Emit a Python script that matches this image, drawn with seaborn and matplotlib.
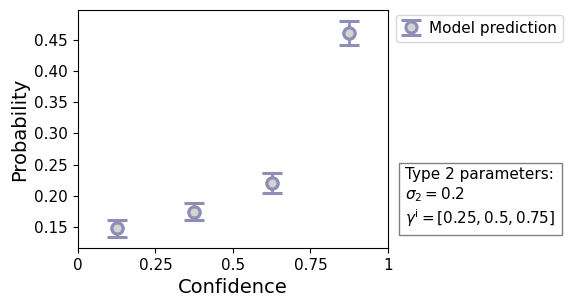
import numpy as np
import pandas as pd
import matplotlib
matplotlib.use("Agg")
from matplotlib import pyplot as plt
import seaborn as sns

# data
confidence = [0.125, 0.375, 0.625, 0.875]
probability = [0.148, 0.175, 0.220, 0.461]
err_low = [0.014, 0.014, 0.016, 0.019]
err_high = [0.013, 0.013, 0.016, 0.019]
xtick_vals = [0, 0.25, 0.5, 0.75, 1]
xtick_labels = ["0", "0.25", "0.5", "0.75", "1"]
ytick_vals = [0.15, 0.20, 0.25, 0.30, 0.35, 0.40, 0.45]

df = pd.DataFrame({"Confidence": confidence, "Probability": probability})

sns.set_style("ticks")
plt.rcParams['font.family'] = ['DejaVu Sans']
plt.rcParams['text.color'] = 'black'
plt.rcParams['axes.labelcolor'] = 'black'
plt.rcParams['xtick.color'] = 'black'
plt.rcParams['ytick.color'] = 'black'
plt.rcParams['axes.edgecolor'] = 'black'

col = '#8e8eb6'
fig = plt.figure(figsize=(5.73, 3.07), dpi=100)
ax = fig.add_axes([0.136, 0.192, 0.541, 0.775])

ax.errorbar(df["Confidence"], df["Probability"], yerr=[err_low, err_high],
            fmt='o', color=col, ecolor=col, elinewidth=2, capsize=7, capthick=2.5,
            markersize=8, markerfacecolor='lightgray', markeredgecolor=col,
            markeredgewidth=2.2, label='Model prediction')
sns.scatterplot(data=df, x="Confidence", y="Probability", ax=ax, s=64,
                color='lightgray', edgecolor=col, linewidth=2.2, zorder=5, legend=False)

ax.set_xlim(0, 1)
ax.set_xticks(xtick_vals)
ax.set_xticklabels(xtick_labels)
ax.set_yticks(ytick_vals)
ax.set_yticklabels([f"{v:.2f}" for v in ytick_vals])
ax.tick_params(labelsize=11, direction='out', length=3.5, width=0.8)
ax.set_xlabel('Confidence', fontsize=14)
ax.set_ylabel('Probability', fontsize=14)
for s in ax.spines.values():
    s.set_linewidth(0.8)

ax.legend(loc='upper left', bbox_to_anchor=(1.01, 1.0), fontsize=11,
          borderaxespad=0.3, handletextpad=0.6, handlelength=1.2)

ax.text(1.055, 0.08, "Type 2 parameters:\n$\\sigma_2 = 0.2$\n$\\gamma^{\\mathrm{i}} = [0.25, 0.5, 0.75]$",
        transform=ax.transAxes, fontsize=11, ha='left', va='bottom', linespacing=1.2,
        bbox=dict(boxstyle='square,pad=0.42', fc='white', ec='gray'))

plt.savefig('out.png', dpi=100)
